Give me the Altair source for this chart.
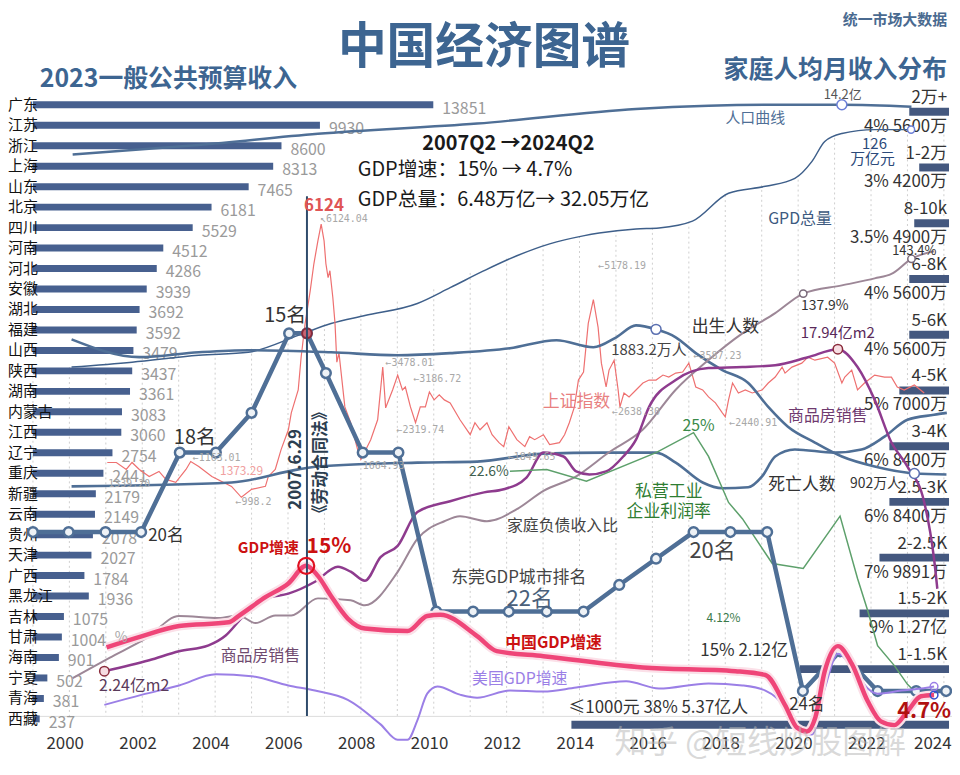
import altair as alt
import pandas as pd

# ======================= DATA =======================
PROVINCES = ["广东", "江苏", "浙江", "上海", "山东", "北京", "四川", "河南", "河北", "安徽",
             "湖北", "福建", "山西", "陕西", "湖南", "内蒙古", "江西", "辽宁", "重庆", "新疆",
             "云南", "贵州", "天津", "广西", "黑龙江", "吉林", "甘肃", "海南", "宁夏", "青海", "西藏"]
REVENUE = [13851, 9930, 8600, 8313, 7465, 6181, 5529, 4512, 4286, 3939,
           3692, 3592, 3479, 3437, 3361, 3083, 3060, 2754, 2441, 2179,
           2149, 2078, 2027, 1784, 1936, 1075, 1004, 901, 502, 381, 237]

INCOME_BRACKETS = ["2万+", "1-2万", "8-10k", "6-8K", "5-6K", "4-5K", "3-4K", "2.5-3K",
                   "2-2.5K", "1.5-2K", "1-1.5K", "≤1000元"]
INCOME_PCT = [4, 3, 3.5, 4, 4, 5, 6, 6, 7, 9, 15, 38]
INCOME_PEOPLE = ["5600万", "4200万", "4900万", "5600万", "5600万", "7000万", "8400万", "8400万",
                 "9891万", "1.27亿", "2.12亿", "5.37亿人"]

# 人口 (亿)
POP_YR = [2000.22, 2003.68, 2006.95, 2011.32, 2015.68, 2017.67, 2019.50, 2021.33, 2023.24]
POP_V = [12.57, 12.87, 13.22, 13.54, 14.00, 14.10, 14.13, 14.13, 14.07]
POP_MARK = (2021.33, 14.13)

# GDP 总量 (万亿元)
GDPT_YR = [2000.19, 2001.85, 2003.68, 2005.04, 2006.41, 2007.31, 2008.24, 2009.68, 2010.58,
           2011.51, 2012.41, 2013.31, 2014.23, 2014.67, 2015.68, 2016.31, 2017.23, 2018.22,
           2019.23, 2020.04, 2020.51, 2020.86, 2021.33, 2022.23, 2023.23]
GDPT_V = [10.0, 12.4, 15.8, 17.3, 25.5, 31.3, 35.2, 41.1, 48.8, 57.1, 64.4, 70.2, 74.1, 75.5,
          77.5, 78.0, 81.3, 94.9, 98.3, 102.2, 110.5, 120.2, 124.1, 126.0, 126.0]
GDPT_MARK = (2023.23, 126.0)

# 上证指数
SH_YR = [2001.17, 2001.42, 2001.69, 2001.85, 2002.05, 2002.32, 2002.59, 2002.78, 2003.05, 2003.33,
         2003.46, 2003.68, 2004.04, 2004.58, 2004.85, 2005.13, 2005.51, 2005.59, 2005.78, 2005.94,
         2006.14, 2006.22, 2006.41, 2006.49, 2006.60, 2006.74, 2006.84, 2006.95, 2007.04, 2007.12,
         2007.17, 2007.23, 2007.28, 2007.36, 2007.42, 2007.47, 2007.53, 2007.69, 2007.85, 2008.04,
         2008.13, 2008.24, 2008.40, 2008.59, 2008.73, 2008.81, 2009.00, 2009.14, 2009.27, 2009.35,
         2009.49, 2009.63, 2009.76, 2009.90, 2010.01, 2010.14, 2010.28, 2010.42, 2010.58, 2010.85,
         2011.13, 2011.26, 2011.40, 2011.59, 2011.73, 2011.92, 2012.05, 2012.19, 2012.41, 2012.63,
         2012.76, 2012.90, 2013.14, 2013.31, 2013.58, 2013.72, 2013.85, 2013.99, 2014.10, 2014.24,
         2014.37, 2014.51, 2014.64, 2014.73, 2014.86, 2014.94, 2015.08, 2015.19, 2015.24, 2015.35,
         2015.49, 2015.68, 2015.87, 2016.04, 2016.23, 2016.42, 2016.58, 2016.77, 2016.96, 2017.13,
         2017.32, 2017.51, 2017.67, 2017.86, 2018.05, 2018.13, 2018.22, 2018.33, 2018.49, 2018.68,
         2018.87, 2019.14, 2019.31, 2019.50, 2019.69, 2019.77, 2019.96, 2020.23, 2020.40, 2020.59,
         2020.94, 2021.13, 2021.33, 2021.41, 2021.60, 2021.76, 2021.95, 2022.23, 2022.50, 2022.69,
         2022.85, 2023.04, 2023.32, 2023.59]
SH_V = [1651, 1651, 1520, 1651, 1520, 1389, 1483, 1334, 1278, 1520,
        1669, 1576, 1389, 1203, 998, 1147, 1203, 1389, 1520, 1893,
        2265, 2582, 3011, 3626, 4260, 4875, 5378, 5807, 6124, 5807,
        5378, 5117, 5248, 4745, 4260, 3533, 3701, 2694, 2396, 1893,
        1706, 1855, 2079, 2452, 3440, 2676, 3011, 3291, 3011, 3067,
        2694, 2396, 2694, 2694, 2974, 2825, 2918, 2825, 2769, 2452,
        2172, 2396, 2265, 2396, 2172, 2023, 1949, 2321, 2079, 1949,
        2135, 2079, 2172, 1986, 2023, 2172, 2396, 2694, 3197, 3347,
        4260, 4707, 4185, 3514, 3067, 3384, 3570, 3011, 2694, 2955,
        2881, 3011, 3142, 3197, 3197, 3291, 3253, 3328, 3347, 3514,
        3067, 3011, 2881, 2769, 2582, 2508, 2825, 3142, 2955, 3011,
        2955, 3011, 3142, 3253, 3440, 3328, 3440, 3514, 3626, 3570,
        3626, 3514, 3142, 3253, 3384, 3011, 3142, 3291, 3253, 3253,
        3067, 3011, 3104, 2955]

# 出生人数 / 死亡人数 (万人)
BIRTH_YR = [2000.19, 2002.05, 2003.68, 2005.04, 2007.31, 2009.14, 2010.58, 2012.22, 2013.50, 2014.51,
            2015.14, 2015.68, 2016.23, 2016.77, 2017.32, 2018.05, 2018.76, 2019.31, 2019.85, 2020.59,
            2021.33, 2022.23, 2023.32, 2024.20]
BIRTH_V = [1815, 1694, 1727, 1741, 1727, 1707, 1721, 1754, 1809, 1761,
           1829, 1910, 1883, 1829, 1721, 1606, 1518, 1355, 1220, 1112,
           1017, 949, 902, 895]
BIRTH_MARKS = [(2016.23, 1883), (2023.32, 902)]
DEATH_YR = [2000.19, 2004.58, 2006.41, 2006.95, 2009.68, 2011.32, 2013.14, 2014.78, 2016.23, 2016.77,
            2017.51, 2018.05, 2018.76, 2019.14, 2019.50, 2020.04, 2021.13, 2021.87, 2022.50, 2023.13,
            2023.86, 2024.21]
DEATH_V = [815, 831, 885, 897, 913, 917, 950, 954, 954, 913,
           831, 807, 811, 856, 938, 967, 954, 967, 1020, 1090,
           1110, 1118]

# 家庭负债收入比 (%)
HD_YR = [2000.22, 2001.23, 2002.24, 2003.14, 2004.23, 2004.77, 2005.24, 2005.78, 2006.22, 2006.95,
         2007.85, 2008.24, 2009.14, 2009.68, 2010.42, 2010.85, 2011.59, 2012.41, 2013.14, 2014.04,
         2014.94, 2015.87, 2016.77, 2017.67, 2018.60, 2019.50, 2020.27, 2021.33, 2022.23, 2022.69,
         2023.24, 2023.86]
HD_V = [77.1, 80.3, 83.4, 86.9, 86.6, 87.0, 85.8, 87.0, 87.0, 89.7,
        89.4, 88.6, 93.9, 99.1, 101.9, 102.7, 101.9, 103.8, 106.7, 109.0,
        112.8, 116.4, 122.7, 127.4, 131.6, 134.8, 137.9, 139.2, 140.3, 141.0,
        143.4, 144.6]
HD_MARKS = [(2020.27, 137.9), (2023.24, 143.4)]

# 商品房销售 (亿m2)
HS_YR = [2001.09, 2002.32, 2003.14, 2003.95, 2004.42, 2004.85, 2005.51, 2006.14, 2006.87, 2007.50,
         2007.85, 2008.24, 2008.67, 2009.14, 2009.68, 2010.58, 2011.51, 2012.05, 2012.68, 2013.14,
         2013.69, 2014.04, 2014.40, 2014.86, 2015.33, 2015.68, 2016.04, 2016.77, 2017.67, 2018.60,
         2019.50, 2020.40, 2021.22, 2021.76, 2022.23, 2022.69, 2023.13, 2023.59, 2023.86, 2023.95]
HS_V = [2.24, 2.77, 3.21, 3.50, 3.98, 4.81, 5.78, 6.02, 6.60, 7.33,
        7.09, 6.65, 7.80, 8.35, 10.0, 10.53, 10.96, 11.11, 11.69, 12.90,
        12.71, 11.98, 11.83, 11.98, 12.71, 13.53, 15.13, 16.44, 17.02, 17.07,
        17.16, 17.55, 17.94, 17.07, 15.47, 13.39, 12.22, 10.48, 7.71, 6.26]
HS_MARKS = [(2001.09, 2.24), (2021.22, 17.94)]

# 私营工业企业利润率 (%)
GR_YR = [2012.22, 2013.23, 2014.32, 2016.23, 2017.26, 2017.67, 2018.22, 2018.60, 2019.42, 2020.27,
         2021.28, 2021.76, 2022.04, 2022.31, 2022.77, 2023.13, 2023.37]
GR_V = [21.9, 22.05, 21.1, 23.4, 25.0, 23.1, 19.4, 18.1, 14.5, 14.1,
        18.3, 13.3, 10.7, 7.9, 6.3, 4.8, 4.1]

# 中国GDP增速 (%)
CN_YR = [2001.15, 2002.13, 2003.14, 2004.50, 2004.77, 2005.51, 2006.14, 2006.63, 2006.95, 2007.31,
         2007.77, 2008.24, 2009.41, 2009.95, 2010.31, 2011.32, 2011.86, 2013.14, 2015.87, 2018.41,
         2019.23, 2019.77, 2020.10, 2020.37, 2020.60, 2020.86, 2021.22, 2021.60, 2022.04, 2022.40,
         2022.77, 2023.13, 2023.50, 2023.86]
CN_V = [8.5, 9.4, 10.2, 10.5, 11.0, 12.5, 13.6, 15.0, 14.2, 12.6,
        10.8, 10.0, 9.8, 11.0, 11.1, 9.4, 8.2, 7.8, 6.9, 6.6,
        6.3, 3.9, 2.1, 1.8, 2.9, 6.6, 8.6, 7.2, 4.2, 2.6,
        2.3, 3.4, 4.6, 4.7]
CN_PEAK = (2006.63, 15.0)

# 美国GDP增速 (%)
US_YR = [2001.09, 2002.13, 2003.14, 2004.15, 2005.13, 2006.14, 2006.87, 2007.77, 2008.67, 2009.14,
         2009.41, 2009.68, 2009.95, 2010.23, 2010.85, 2011.32, 2012.22, 2013.14, 2014.04, 2015.41,
         2016.31, 2017.67, 2018.60, 2019.23, 2019.77, 2020.04, 2020.51, 2020.86, 2021.22, 2021.60,
         2022.04, 2022.31, 2022.96, 2023.51, 2023.86]
US_V = [0.8, 1.8, 2.7, 3.8, 3.6, 2.7, 2.2, 1.3, -1.1, -2.6,
        -2.6, -0.7, 1.9, 2.6, 1.8, 1.5, 2.2, 2.1, 2.5, 3.1,
        2.4, 2.9, 2.7, 2.2, 0.5, -1.4, -2.1, 2.4, 5.8, 4.7,
        2.4, 1.9, 2.2, 2.4, 2.6]

# 东莞GDP城市排名
DG_YR = [1999.13, 2000.11, 2001.12, 2002.10, 2003.16, 2004.15, 2005.13, 2006.16, 2006.65, 2007.17,
         2008.18, 2009.16, 2010.20, 2011.21, 2012.19, 2013.23, 2014.24, 2015.22, 2016.23, 2017.26,
         2018.27, 2019.28, 2020.26, 2021.28, 2022.31, 2023.37, 2024.19]
DG_RANK = [20, 20, 20, 20, 18, 18, 17, 15, 15, 16,
           18, 18, 22, 22, 22, 22, 22, 21.33, 20.67, 20,
           20, 20, 24, 23, 24, 24, 24]
LAW_YEAR = 2006.65  # 2007.6.29《劳动合同法》

# grid lines (top end)
GRID_YR = [y + 0.13 for y in range(1999, 2025)]
GRID_TOP = [8, 10, 12, 14.5, 16, 17, 19, 24, 31, 36, 42, 48, 56, 63, 70, 74, 77, 78, 81, 94,
            99, 104, 122, 126, 126, 126]

# ======================= LAYOUT HELPERS =======================
W, H = 950, 710
OX, OY = 8, 8            # page position of plot origin
BOTTOM = OY + H
FONT = "Noto Sans CJK SC"
BAR = "#47608f"


def lin(v1, p1, v2, p2, lo, hi):
    k = (v2 - v1) / (p2 - p1)
    return [v1 + (lo - p1) * k, v1 + (hi - p1) * k]


XDOM = lin(2000, 65, 2024, 65 + 24 * 36.67, OX, OX + W)


def ysc(v1, p1, v2, p2):
    return alt.Scale(domain=lin(v1, p1, v2, p2, BOTTOM, OY), zero=False, nice=False)


def xyr(axis=None):
    return alt.X("yr:Q", scale=alt.Scale(domain=XDOM, zero=False, nice=False), axis=axis)


S_POP = ysc(14.13, 103, 12.57, 153)
S_GDPT = ysc(126, 128, 10, 367)
S_SH = ysc(6124, 223, 998, 498)
S_BIRTH = ysc(1883, 329, 902, 474)
S_DEATH = ysc(1110, 415, 815, 487)
S_HD = ysc(137.9, 293, 143.4, 258)
S_HS = ysc(17.94, 349, 2.24, 673)
S_GR = ysc(25, 433, 4.1, 695)
S_CN = ysc(15, 567, 4.7, 697)
S_US = ysc(3.8, 676, -2.6, 742)
S_DG = ysc(15, 333, 24, 693)


def df(xs, vs):
    return pd.DataFrame({"yr": xs, "v": vs})


def line(d, scale, color, width, interp="monotone", **kw):
    return alt.Chart(d).mark_line(color=color, strokeWidth=width, interpolate=interp, **kw).encode(
        x=xyr(), y=alt.Y("v:Q", scale=scale, axis=None))


def marks(pts, scale, stroke, size, sw=1.5, fill="white"):
    d = pd.DataFrame(pts, columns=["yr", "v"])
    return alt.Chart(d).mark_point(shape="circle", filled=True, fill=fill, stroke=stroke,
                                   strokeWidth=sw, size=size, opacity=1).encode(
        x=xyr(), y=alt.Y("v:Q", scale=scale, axis=None))


layers = []

# ---- grid + year axis ----
grid_df = pd.DataFrame({"yr": GRID_YR, "top": GRID_TOP})
year_axis = alt.Axis(
    values=list(range(2000, 2025, 2)), format="d", labelFontSize=17, labelColor="#333",
    labelFont=FONT, ticks=False, grid=False, domainColor="#dddddd", labelPadding=20,
    title=None, labelFlush=False, labelOverlap=False,
    labelAlign={"condition": {"test": "datum.value == 2024", "value": "right"}, "value": "center"},
    labelOffset={"condition": {"test": "datum.value == 2024", "value": 12}, "value": 0},
)
layers.append(alt.Chart(grid_df).mark_rule(color="#cfcfcf", strokeDash=[2, 3], strokeWidth=1).encode(
    x=xyr(year_axis),
    y=alt.Y("top:Q", scale=S_GDPT, axis=None),
    y2=alt.value(H)))

# ---- province revenue bars ----
prov = pd.DataFrame({"province": PROVINCES, "revenue": REVENUE})
PY = alt.Y("province:N", sort=PROVINCES, axis=None,
           scale=alt.Scale(type="point", domain=PROVINCES, range=[103 - OY, 721 - OY], padding=0))
PXS = alt.Scale(domain=lin(0, 33, 13851, 436, OX, OX + W), zero=False, nice=False)
pbase = alt.Chart(prov).transform_calculate(base="0")
layers.append(pbase.mark_bar(size=7, color=BAR).encode(
    x=alt.X("revenue:Q", scale=PXS, axis=None), x2="base:Q", y=PY))
layers.append(pbase.mark_text(align="left", baseline="middle", fontSize=15, color="#111", font=FONT).encode(
    x=alt.value(0), y=PY, text="province:N"))
layers.append(pbase.mark_text(align="left", baseline="middle", dx=9, dy=4, fontSize=16, color="#9a9a9a",
                              font=FONT).encode(
    x=alt.X("revenue:Q", scale=PXS, axis=None), y=PY, text="revenue:Q"))

# ---- income distribution bars ----
inc = pd.DataFrame({"bracket": INCOME_BRACKETS, "pct": INCOME_PCT, "people": INCOME_PEOPLE})
inc["bottom"] = [f"{p:g}% {q}" for p, q in zip(INCOME_PCT, INCOME_PEOPLE)]
inc["full"] = [f"{b} {p:g}% {q}" for b, p, q in zip(INCOME_BRACKETS, INCOME_PCT, INCOME_PEOPLE)]
IY = alt.Y("bracket:N", sort=INCOME_BRACKETS, axis=None,
           scale=alt.Scale(type="point", domain=INCOME_BRACKETS, range=[110 - OY, 727 - OY], padding=0))
IXS = alt.Scale(domain=lin(0, 955, 38, 575, OX, OX + W), zero=False, nice=False)
ibase = alt.Chart(inc).transform_calculate(base="0")
layers.append(ibase.mark_bar(size=8, color="#44587f").encode(
    x=alt.X("pct:Q", scale=IXS, axis=None), x2="base:Q", y=IY))
layers.append(ibase.transform_filter("datum.bracket != '≤1000元'").mark_text(
    align="right", baseline="middle", dx=-2, dy=-14, fontSize=17, color="#333", font=FONT).encode(
    x=alt.X("base:Q", scale=IXS, axis=None), y=IY, text="bracket:N"))
layers.append(ibase.transform_filter("datum.bracket != '≤1000元' && datum.bracket != '1-1.5K'").mark_text(
    align="right", baseline="middle", dx=-2, dy=15, fontSize=17, color="#333", font=FONT).encode(
    x=alt.X("base:Q", scale=IXS, axis=None), y=IY, text="bottom:N"))
layers.append(ibase.transform_filter("datum.bracket == '1-1.5K'").mark_text(
    align="right", baseline="middle", dx=-12, dy=-18, fontSize=17, color="#333", font=FONT).encode(
    x=alt.X("pct:Q", scale=IXS, axis=None), y=IY, text="bottom:N"))
layers.append(ibase.transform_filter("datum.bracket == '≤1000元'").mark_text(
    align="left", baseline="middle", dx=-3, dy=-17, fontSize=17, color="#333", font=FONT).encode(
    x=alt.X("pct:Q", scale=IXS, axis=None), y=IY, text="full:N"))

# ---- series ----
layers.append(line(df(POP_YR, POP_V), S_POP, "#4f6f96", 2.5))
layers.append(line(df(GDPT_YR, GDPT_V), S_GDPT, "#3e5f8a", 1.5))
layers.append(line(df(SH_YR, SH_V), S_SH, "#ee7070", 1.2, interp="linear"))
layers.append(line(df(BIRTH_YR, BIRTH_V), S_BIRTH, "#4f6f96", 2.6))
layers.append(line(df(DEATH_YR, DEATH_V), S_DEATH, "#4f6f96", 2.6))
layers.append(line(df(HD_YR, HD_V), S_HD, "#9d8797", 2))
layers.append(line(df(HS_YR, HS_V), S_HS, "#8e3b8e", 2.5))
layers.append(line(df(GR_YR, GR_V), S_GR, "#5da06b", 1.5, interp="linear"))

# Dongguan rank
dg = df(DG_YR, DG_RANK)
layers.append(line(dg, S_DG, "#4f6f96", 4.5, interp="linear"))
layers.append(alt.Chart(dg).mark_point(shape="circle", filled=True, fill="#eef2f6", stroke="#4f6f96",
                                      strokeWidth=2.5, size=95, opacity=1).encode(
    x=xyr(), y=alt.Y("v:Q", scale=S_DG, axis=None)))
layers.append(marks([(LAW_YEAR, 15)], S_DG, "#8a2a3a", 95, sw=2, fill="#c96474"))

# GDP growth lines
layers.append(line(df(US_YR, US_V), S_US, "#9b7fe6", 2))
cn = df(CN_YR, CN_V)
layers.append(line(cn, S_CN, "#fbe0e8", 9))
layers.append(line(cn, S_CN, "#ef4578", 4.5))

# law line
layers.append(alt.Chart(pd.DataFrame({"yr": [LAW_YEAR]})).mark_rule(color="#2f4b6b", strokeWidth=2).encode(
    x=xyr(), y=alt.value(195 - OY), y2=alt.value(718 - OY)))

# markers
layers.append(marks([POP_MARK], S_POP, "#6b7fd7", 100))
layers.append(marks([GDPT_MARK], S_GDPT, "#6b7fd7", 50))
layers.append(marks(BIRTH_MARKS, S_BIRTH, "#5a6fb0", 100))
layers.append(marks(HD_MARKS, S_HD, "#7a6a7a", 55))
layers.append(marks(HS_MARKS, S_HS, "#8a2a3a", 90, fill="#f6dde2"))
layers.append(marks([CN_PEAK], S_CN, "#e01020", 260, sw=2.2, fill="rgba(255,255,255,0)"))
layers.append(marks([(CN_YR[-1], CN_V[-1])], S_CN, "#3050d0", 60, fill="rgba(255,255,255,0)"))
layers.append(marks([(US_YR[-1], US_V[-1])], S_US, "#9b7fe6", 60, fill="rgba(255,255,255,0)"))

# ---- text annotations (page pixel positions) ----
ANN = [
    ("中国经济图谱", 487, 46, 49, "#3d6591", "bold", "center", 0),
    ("统一市场大数据", 953, 18, 15, "#4a6a90", "bold", "right", 0),
    ("2023一般公共预算收入", 40, 77, 25, "#3d6591", "bold", "left", 0),
    ("家庭人均月收入分布", 953, 68, 25, "#3d6591", "bold", "right", 0),
    ("2007Q2 →2024Q2", 425, 142, 20, "#1a1a1a", "bold", "left", 0),
    ("GDP增速：15% → 4.7%", 360, 169, 20, "#1a1a1a", "normal", "left", 0),
    ("GDP总量：6.48万亿→ 32.05万亿", 360, 199, 20, "#1a1a1a", "normal", "left", 0),
    ("人口曲线", 760, 116, 15, "#4f6f96", "normal", "center", 0),
    ("14.2亿", 848, 93, 13, "#555555", "normal", "center", 0),
    ("GPD总量", 805, 218, 16, "#3d5a80", "normal", "center", 0),
    ("126", 880, 142, 15, "#2c4a7a", "normal", "center", 0),
    ("万亿元", 878, 158, 15, "#2c4a7a", "normal", "center", 0),
    ("6124", 326, 205, 17, "#e05555", "bold", "center", 0),
    ("上证指数", 580, 402, 17, "#e88080", "normal", "center", 0),
    ("1373.29", 243, 472, 12, "#f0a0a0", "normal", "center", 0),
    ("出生人数", 730, 327, 17, "#333333", "normal", "center", 0),
    ("1883.2万人", 653, 350, 15, "#444444", "normal", "center", 0),
    ("死亡人数", 807, 486, 17, "#333333", "normal", "center", 0),
    ("902万人", 881, 485, 14, "#333333", "normal", "center", 0),
    ("137.9%", 830, 306, 14, "#333333", "normal", "center", 0),
    ("143.4%", 920, 250, 13, "#333333", "normal", "center", 0),
    ("17.94亿m2", 843, 333, 15, "#5a2a5a", "normal", "center", 0),
    ("商品房销售", 833, 416, 16, "#6f3a6f", "normal", "center", 0),
    ("商品房销售", 262, 658, 16, "#6f4a6f", "normal", "center", 0),
    ("2.24亿m2", 135, 688, 16, "#5a3a5a", "normal", "center", 0),
    ("家庭负债收入比", 566, 527, 16, "#444444", "normal", "center", 0),
    ("22.6%", 492, 473, 14, "#3f5f4f", "normal", "center", 0),
    ("25%", 703, 426, 16, "#3a8a4a", "normal", "center", 0),
    ("4.12%", 728, 620, 12, "#3a7a4a", "normal", "center", 0),
    ("私营工业", 673, 493, 17, "#2e7d32", "normal", "center", 0),
    ("企业利润率", 673, 513, 17, "#2e7d32", "normal", "center", 0),
    ("15名", 287, 316, 20, "#333333", "normal", "center", 0),
    ("18名", 196, 438, 20, "#333333", "normal", "center", 0),
    ("20名", 167, 537, 17, "#333333", "normal", "center", 0),
    ("22名", 533, 600, 22, "#4a5f7a", "normal", "center", 0),
    ("20名", 717, 552, 22, "#444444", "normal", "center", 0),
    ("24名", 812, 707, 17, "#333333", "normal", "center", 0),
    ("东莞GDP城市排名", 522, 579, 17, "#444444", "normal", "center", 0),
    ("GDP增速", 270, 549, 15, "#cc1111", "bold", "center", 0),
    ("15%", 331, 548, 21, "#cc1111", "bold", "center", 0),
    ("中国GDP增速", 557, 645, 16, "#cc1111", "bold", "center", 0),
    ("4.7%", 930, 713, 22, "#b01010", "bold", "center", 0),
    ("美国GDP增速", 523, 681, 16, "#9b7fe6", "normal", "center", 0),
    ("2007.6.29", 298, 470, 17, "#2c3e50", "bold", "center", 270),
    ("《劳动合同法》", 323, 463, 17, "#2c3e50", "bold", "center", 270),
    ("%", 122, 640, 14, "#aaaaaa", "normal", "center", 0),
    ("知乎 @短线炒股图解", 765, 745, 32, "rgba(185,185,185,0.55)", "normal", "center", 0),
]
MONO = [("↖6124.04", 346, 218), ("←5178.19", 626, 265), ("←3478.01", 412, 363), ("←3186.72", 440, 379),
        ("←2319.74", 423, 430), ("←1849.65", 535, 457), ("←3587.23", 722, 356), ("←2638.30", 640, 412),
        ("←2440.91", 758, 423), ("1664.93", 386, 467), ("←1163.01", 218, 458), ("←998.2", 255, 503),
        ("1339.20", 130, 485)]

ann = pd.DataFrame(ANN, columns=["text", "px", "py", "size", "color", "weight", "align", "angle"])
ann["cx"] = ann["px"] - OX
ann["cy"] = ann["py"] - OY
for (wt, al), g in ann.groupby(["weight", "align"]):
    layers.append(alt.Chart(g).mark_text(fontWeight=wt, align=al, baseline="middle", font=FONT).encode(
        x=alt.X("cx:Q", scale=None), y=alt.Y("cy:Q", scale=None), text="text:N",
        size=alt.Size("size:Q", scale=None), color=alt.Color("color:N", scale=None),
        angle=alt.Angle("angle:Q", scale=None)))

mono = pd.DataFrame(MONO, columns=["text", "px", "py"])
mono["cx"] = mono["px"] - OX
mono["cy"] = mono["py"] - OY
layers.append(alt.Chart(mono).mark_text(font="DejaVu Sans Mono", fontSize=10, color="#a8a8a8",
                                        align="center", baseline="middle").encode(
    x=alt.X("cx:Q", scale=None), y=alt.Y("cy:Q", scale=None), text="text:N"))

chart = alt.layer(*layers).resolve_scale(
    x="independent", y="independent", color="independent", size="independent"
).properties(
    width=W, height=H, background="white",
    autosize=alt.AutoSizeParams(type="none"),
    padding={"left": 0, "top": 0, "right": 0, "bottom": 45},
).configure_view(strokeWidth=0)

chart.save("out.html", embed_options={"renderer": "svg", "actions": False})
